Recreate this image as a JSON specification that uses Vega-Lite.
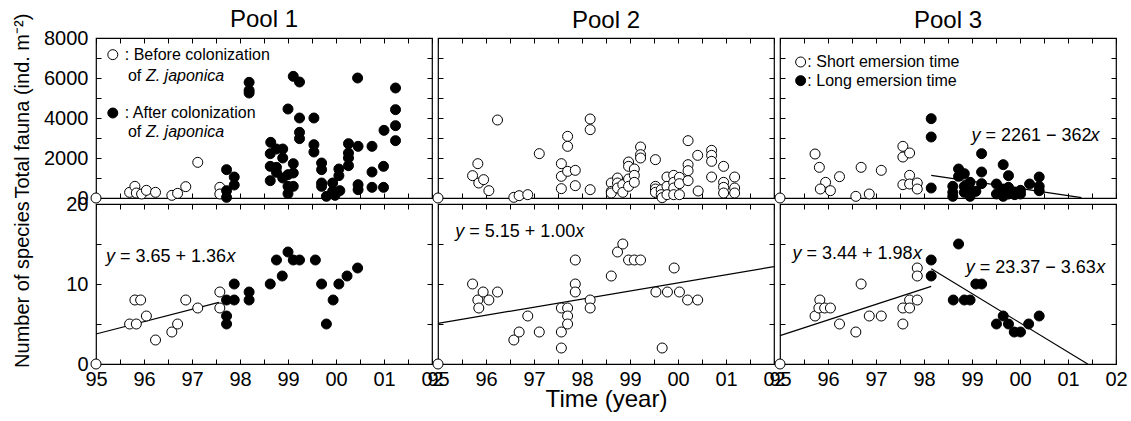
{
  "$schema": "https://vega.github.io/schema/vega-lite/v6.json",
  "padding": {"left": 11, "top": 7, "right": 5, "bottom": 3},
  "background": "white",
  "config": {
    "font": "Liberation Sans",
    "view": {"stroke": "black", "strokeWidth": 1.2},
    "axis": {"grid": false, "domain": false, "tickColor": "black", "tickSize": -5, "tickWidth": 1, "labelFontSize": 20, "labelColor": "black", "titleFontSize": 20, "titleFontWeight": "normal", "titleColor": "black", "labelOverlap": false, "labelFlush": false, "labelBound": false},
    "axisX": {"labelPadding": 10},
    "axisY": {"labelPadding": 13},
    "title": {"fontSize": 24, "fontWeight": "normal", "color": "black", "offset": 5}
  },
  "datasets": {
    "p1f": [
      {"year": 1995, "value": 0, "type": "open"},
      {"year": 1995.70, "value": 283, "type": "open"}, {"year": 1995.81, "value": 583, "type": "open"}, {"year": 1995.84, "value": 250, "type": "open"}, {"year": 1995.95, "value": 200, "type": "open"}, {"year": 1996.05, "value": 383, "type": "open"}, {"year": 1996.24, "value": 283, "type": "open"}, {"year": 1996.58, "value": 133, "type": "open"}, {"year": 1996.70, "value": 233, "type": "open"}, {"year": 1996.87, "value": 567, "type": "open"}, {"year": 1997.12, "value": 1783, "type": "open"}, {"year": 1997.58, "value": 533, "type": "open"}, {"year": 1997.58, "value": 200, "type": "open"},
      {"year": 1997.72, "value": 1417, "type": "solid"}, {"year": 1997.72, "value": 367, "type": "solid"}, {"year": 1997.72, "value": 33, "type": "solid"}, {"year": 1997.88, "value": 1050, "type": "solid"}, {"year": 1997.88, "value": 650, "type": "solid"}, {"year": 1998.19, "value": 5783, "type": "solid"}, {"year": 1998.19, "value": 5383, "type": "solid"}, {"year": 1998.19, "value": 5250, "type": "solid"}, {"year": 1998.64, "value": 2783, "type": "solid"}, {"year": 1998.63, "value": 2217, "type": "solid"}, {"year": 1998.76, "value": 2450, "type": "solid"}, {"year": 1998.89, "value": 2450, "type": "solid"}, {"year": 1998.89, "value": 2000, "type": "solid"}, {"year": 1998.63, "value": 1583, "type": "solid"}, {"year": 1998.76, "value": 1533, "type": "solid"}, {"year": 1998.76, "value": 1283, "type": "solid"}, {"year": 1998.63, "value": 867, "type": "solid"}, {"year": 1998.89, "value": 1000, "type": "solid"}, {"year": 1999.0, "value": 1167, "type": "solid"}, {"year": 1999.11, "value": 1250, "type": "solid"}, {"year": 1999.11, "value": 1717, "type": "solid"}, {"year": 1999.0, "value": 583, "type": "solid"}, {"year": 1999.11, "value": 583, "type": "solid"}, {"year": 1999.0, "value": 217, "type": "solid"}, {"year": 1999.11, "value": 6083, "type": "solid"}, {"year": 1999.24, "value": 5800, "type": "solid"}, {"year": 1999.0, "value": 4450, "type": "solid"}, {"year": 1999.24, "value": 4000, "type": "solid"}, {"year": 1999.24, "value": 3283, "type": "solid"}, {"year": 1999.24, "value": 2967, "type": "solid"}, {"year": 1999.54, "value": 4000, "type": "solid"}, {"year": 1999.54, "value": 2667, "type": "solid"}, {"year": 1999.54, "value": 2300, "type": "solid"}, {"year": 1999.70, "value": 1750, "type": "solid"}, {"year": 1999.70, "value": 1417, "type": "solid"}, {"year": 1999.70, "value": 750, "type": "solid"}, {"year": 1999.70, "value": 583, "type": "solid"}, {"year": 1999.80, "value": 83, "type": "solid"}, {"year": 1999.93, "value": 750, "type": "solid"}, {"year": 1999.93, "value": 333, "type": "solid"}, {"year": 1999.98, "value": 133, "type": "solid"}, {"year": 2000.08, "value": 367, "type": "solid"}, {"year": 2000.06, "value": 1450, "type": "solid"}, {"year": 2000.06, "value": 1117, "type": "solid"}, {"year": 2000.26, "value": 2717, "type": "solid"}, {"year": 2000.26, "value": 2250, "type": "solid"}, {"year": 2000.26, "value": 2000, "type": "solid"}, {"year": 2000.26, "value": 1617, "type": "solid"}, {"year": 2000.45, "value": 6000, "type": "solid"}, {"year": 2000.46, "value": 2583, "type": "solid"}, {"year": 2000.46, "value": 667, "type": "solid"}, {"year": 2000.46, "value": 417, "type": "solid"}, {"year": 2000.75, "value": 2583, "type": "solid"}, {"year": 2000.75, "value": 1300, "type": "solid"}, {"year": 2000.75, "value": 533, "type": "solid"}, {"year": 2000.99, "value": 1583, "type": "solid"}, {"year": 2000.99, "value": 533, "type": "solid"}, {"year": 2001.0, "value": 3383, "type": "solid"}, {"year": 2001.24, "value": 5500, "type": "solid"}, {"year": 2001.24, "value": 4417, "type": "solid"}, {"year": 2001.24, "value": 3617, "type": "solid"}, {"year": 2001.24, "value": 2867, "type": "solid"}
    ],
    "p2f": [
      {"year": 1995, "value": 0, "type": "open"},
      {"year": 1995.72, "value": 1117, "type": "open"}, {"year": 1995.83, "value": 1717, "type": "open"}, {"year": 1995.85, "value": 750, "type": "open"}, {"year": 1995.95, "value": 917, "type": "open"}, {"year": 1996.06, "value": 367, "type": "open"}, {"year": 1996.24, "value": 3900, "type": "open"}, {"year": 1996.58, "value": 33, "type": "open"}, {"year": 1996.69, "value": 117, "type": "open"}, {"year": 1996.87, "value": 167, "type": "open"}, {"year": 1997.11, "value": 2217, "type": "open"}, {"year": 1997.57, "value": 1717, "type": "open"}, {"year": 1997.57, "value": 1083, "type": "open"}, {"year": 1997.57, "value": 467, "type": "open"}, {"year": 1997.70, "value": 3083, "type": "open"}, {"year": 1997.70, "value": 2583, "type": "open"}, {"year": 1997.70, "value": 1333, "type": "open"}, {"year": 1997.86, "value": 1383, "type": "open"}, {"year": 1997.86, "value": 617, "type": "open"}, {"year": 1998.17, "value": 3950, "type": "open"}, {"year": 1998.17, "value": 3417, "type": "open"}, {"year": 1998.17, "value": 417, "type": "open"}, {"year": 1998.61, "value": 750, "type": "open"}, {"year": 1998.61, "value": 333, "type": "open"}, {"year": 1998.61, "value": 250, "type": "open"}, {"year": 1998.74, "value": 1000, "type": "open"}, {"year": 1998.74, "value": 750, "type": "open"}, {"year": 1998.74, "value": 500, "type": "open"}, {"year": 1998.85, "value": 667, "type": "open"}, {"year": 1998.85, "value": 283, "type": "open"}, {"year": 1998.97, "value": 1800, "type": "open"}, {"year": 1998.97, "value": 1583, "type": "open"}, {"year": 1998.97, "value": 950, "type": "open"}, {"year": 1998.97, "value": 583, "type": "open"}, {"year": 1999.09, "value": 1450, "type": "open"}, {"year": 1999.09, "value": 1133, "type": "open"}, {"year": 1999.09, "value": 783, "type": "open"}, {"year": 1999.22, "value": 2550, "type": "open"}, {"year": 1999.22, "value": 2167, "type": "open"}, {"year": 1999.22, "value": 2000, "type": "open"}, {"year": 1999.53, "value": 1917, "type": "open"}, {"year": 1999.53, "value": 583, "type": "open"}, {"year": 1999.53, "value": 450, "type": "open"}, {"year": 1999.53, "value": 283, "type": "open"}, {"year": 1999.65, "value": 417, "type": "open"}, {"year": 1999.65, "value": 167, "type": "open"}, {"year": 1999.67, "value": 17, "type": "open"}, {"year": 1999.77, "value": 1050, "type": "open"}, {"year": 1999.77, "value": 583, "type": "open"}, {"year": 1999.77, "value": 167, "type": "open"}, {"year": 1999.91, "value": 1133, "type": "open"}, {"year": 1999.91, "value": 783, "type": "open"}, {"year": 1999.91, "value": 500, "type": "open"}, {"year": 1999.91, "value": 167, "type": "open"}, {"year": 2000.03, "value": 1033, "type": "open"}, {"year": 2000.03, "value": 717, "type": "open"}, {"year": 2000.03, "value": 167, "type": "open"}, {"year": 2000.21, "value": 2867, "type": "open"}, {"year": 2000.21, "value": 1667, "type": "open"}, {"year": 2000.21, "value": 1367, "type": "open"}, {"year": 2000.21, "value": 867, "type": "open"}, {"year": 2000.41, "value": 2133, "type": "open"}, {"year": 2000.42, "value": 350, "type": "open"}, {"year": 2000.70, "value": 2383, "type": "open"}, {"year": 2000.70, "value": 2133, "type": "open"}, {"year": 2000.70, "value": 1833, "type": "open"}, {"year": 2000.70, "value": 1050, "type": "open"}, {"year": 2000.95, "value": 1583, "type": "open"}, {"year": 2000.95, "value": 783, "type": "open"}, {"year": 2000.95, "value": 533, "type": "open"}, {"year": 2000.95, "value": 250, "type": "open"}, {"year": 2001.18, "value": 1050, "type": "open"}, {"year": 2001.18, "value": 500, "type": "open"}, {"year": 2001.18, "value": 250, "type": "open"}
    ],
    "p3f": [
      {"year": 1995, "value": 0, "type": "open"},
      {"year": 1995.73, "value": 2200, "type": "open"}, {"year": 1995.82, "value": 1533, "type": "open"}, {"year": 1995.95, "value": 783, "type": "open"}, {"year": 1995.84, "value": 450, "type": "open"}, {"year": 1996.05, "value": 367, "type": "open"}, {"year": 1996.24, "value": 1067, "type": "open"}, {"year": 1996.58, "value": 83, "type": "open"}, {"year": 1996.69, "value": 1533, "type": "open"}, {"year": 1996.86, "value": 200, "type": "open"}, {"year": 1997.11, "value": 1383, "type": "open"}, {"year": 1997.56, "value": 2583, "type": "open"}, {"year": 1997.56, "value": 2050, "type": "open"}, {"year": 1997.70, "value": 2250, "type": "open"}, {"year": 1997.70, "value": 1133, "type": "open"}, {"year": 1997.56, "value": 667, "type": "open"}, {"year": 1997.70, "value": 700, "type": "open"}, {"year": 1997.86, "value": 750, "type": "open"}, {"year": 1997.86, "value": 450, "type": "open"},
      {"year": 1998.15, "value": 3967, "type": "solid"}, {"year": 1998.15, "value": 3050, "type": "solid"}, {"year": 1998.15, "value": 500, "type": "solid"}, {"year": 1998.60, "value": 583, "type": "solid"}, {"year": 1998.60, "value": 283, "type": "solid"}, {"year": 1998.60, "value": 83, "type": "solid"}, {"year": 1998.72, "value": 1450, "type": "solid"}, {"year": 1998.72, "value": 1083, "type": "solid"}, {"year": 1998.84, "value": 1217, "type": "solid"}, {"year": 1998.84, "value": 583, "type": "solid"}, {"year": 1998.84, "value": 283, "type": "solid"}, {"year": 1998.96, "value": 783, "type": "solid"}, {"year": 1998.96, "value": 450, "type": "solid"}, {"year": 1998.96, "value": 83, "type": "solid"}, {"year": 1999.08, "value": 333, "type": "solid"}, {"year": 1999.20, "value": 2217, "type": "solid"}, {"year": 1999.20, "value": 1300, "type": "solid"}, {"year": 1999.20, "value": 717, "type": "solid"}, {"year": 1999.51, "value": 700, "type": "solid"}, {"year": 1999.51, "value": 200, "type": "solid"}, {"year": 1999.65, "value": 1667, "type": "solid"}, {"year": 1999.65, "value": 450, "type": "solid"}, {"year": 1999.65, "value": 83, "type": "solid"}, {"year": 1999.76, "value": 1117, "type": "solid"}, {"year": 1999.76, "value": 533, "type": "solid"}, {"year": 1999.76, "value": 200, "type": "solid"}, {"year": 1999.89, "value": 300, "type": "solid"}, {"year": 1999.89, "value": 167, "type": "solid"}, {"year": 2000.01, "value": 383, "type": "solid"}, {"year": 2000.01, "value": 200, "type": "solid"}, {"year": 2000.20, "value": 700, "type": "solid"}, {"year": 2000.40, "value": 1050, "type": "solid"}, {"year": 2000.40, "value": 583, "type": "solid"}, {"year": 2000.40, "value": 367, "type": "solid"}
    ],
    "p1s": [
      {"year": 1995, "value": 0, "type": "open"},
      {"year": 1995.70, "value": 5, "type": "open"}, {"year": 1995.84, "value": 5, "type": "open"}, {"year": 1995.81, "value": 8, "type": "open"}, {"year": 1995.93, "value": 8, "type": "open"}, {"year": 1996.05, "value": 6, "type": "open"}, {"year": 1996.24, "value": 3, "type": "open"}, {"year": 1996.58, "value": 4, "type": "open"}, {"year": 1996.70, "value": 5, "type": "open"}, {"year": 1996.87, "value": 8, "type": "open"}, {"year": 1997.12, "value": 7, "type": "open"}, {"year": 1997.58, "value": 9, "type": "open"}, {"year": 1997.58, "value": 7, "type": "open"},
      {"year": 1997.72, "value": 8, "type": "solid"}, {"year": 1997.72, "value": 6, "type": "solid"}, {"year": 1997.72, "value": 5, "type": "solid"}, {"year": 1997.88, "value": 10, "type": "solid"}, {"year": 1997.88, "value": 8, "type": "solid"}, {"year": 1998.19, "value": 9, "type": "solid"}, {"year": 1998.19, "value": 8, "type": "solid"}, {"year": 1998.63, "value": 10, "type": "solid"}, {"year": 1998.76, "value": 13, "type": "solid"}, {"year": 1998.88, "value": 11, "type": "solid"}, {"year": 1999.0, "value": 14, "type": "solid"}, {"year": 1999.11, "value": 13, "type": "solid"}, {"year": 1999.24, "value": 13, "type": "solid"}, {"year": 1999.57, "value": 13, "type": "solid"}, {"year": 1999.70, "value": 10, "type": "solid"}, {"year": 1999.80, "value": 5, "type": "solid"}, {"year": 1999.94, "value": 8, "type": "solid"}, {"year": 2000.06, "value": 10, "type": "solid"}, {"year": 2000.23, "value": 11, "type": "solid"}, {"year": 2000.45, "value": 12, "type": "solid"}
    ],
    "p2s": [
      {"year": 1995, "value": 0, "type": "open"},
      {"year": 1995.72, "value": 10, "type": "open"}, {"year": 1995.83, "value": 8, "type": "open"}, {"year": 1995.85, "value": 7, "type": "open"}, {"year": 1995.94, "value": 9, "type": "open"}, {"year": 1996.06, "value": 8, "type": "open"}, {"year": 1996.24, "value": 9, "type": "open"}, {"year": 1996.58, "value": 3, "type": "open"}, {"year": 1996.69, "value": 4, "type": "open"}, {"year": 1996.87, "value": 6, "type": "open"}, {"year": 1997.11, "value": 4, "type": "open"}, {"year": 1997.57, "value": 7, "type": "open"}, {"year": 1997.57, "value": 4, "type": "open"}, {"year": 1997.57, "value": 2, "type": "open"}, {"year": 1997.70, "value": 7, "type": "open"}, {"year": 1997.70, "value": 6, "type": "open"}, {"year": 1997.70, "value": 5, "type": "open"}, {"year": 1997.86, "value": 13, "type": "open"}, {"year": 1997.86, "value": 10, "type": "open"}, {"year": 1997.86, "value": 9, "type": "open"}, {"year": 1998.17, "value": 8, "type": "open"}, {"year": 1998.17, "value": 7, "type": "open"}, {"year": 1998.61, "value": 11, "type": "open"}, {"year": 1998.74, "value": 14, "type": "open"}, {"year": 1998.85, "value": 15, "type": "open"}, {"year": 1998.97, "value": 13, "type": "open"}, {"year": 1999.09, "value": 13, "type": "open"}, {"year": 1999.22, "value": 13, "type": "open"}, {"year": 1999.54, "value": 9, "type": "open"}, {"year": 1999.67, "value": 2, "type": "open"}, {"year": 1999.78, "value": 9, "type": "open"}, {"year": 1999.92, "value": 12, "type": "open"}, {"year": 2000.03, "value": 9, "type": "open"}, {"year": 2000.20, "value": 8, "type": "open"}, {"year": 2000.41, "value": 8, "type": "open"}
    ],
    "p3s": [
      {"year": 1995, "value": 0, "type": "open"},
      {"year": 1995.73, "value": 6, "type": "open"}, {"year": 1995.83, "value": 8, "type": "open"}, {"year": 1995.81, "value": 7, "type": "open"}, {"year": 1995.93, "value": 7, "type": "open"}, {"year": 1996.05, "value": 7, "type": "open"}, {"year": 1996.24, "value": 5, "type": "open"}, {"year": 1996.58, "value": 4, "type": "open"}, {"year": 1996.69, "value": 10, "type": "open"}, {"year": 1996.86, "value": 6, "type": "open"}, {"year": 1997.11, "value": 6, "type": "open"}, {"year": 1997.56, "value": 7, "type": "open"}, {"year": 1997.56, "value": 5, "type": "open"}, {"year": 1997.70, "value": 8, "type": "open"}, {"year": 1997.70, "value": 7, "type": "open"}, {"year": 1997.86, "value": 8, "type": "open"}, {"year": 1997.86, "value": 12, "type": "open"}, {"year": 1997.86, "value": 11, "type": "open"},
      {"year": 1998.15, "value": 13, "type": "solid"}, {"year": 1998.15, "value": 11, "type": "solid"}, {"year": 1998.72, "value": 15, "type": "solid"}, {"year": 1998.61, "value": 8, "type": "solid"}, {"year": 1998.84, "value": 8, "type": "solid"}, {"year": 1998.96, "value": 8, "type": "solid"}, {"year": 1999.08, "value": 10, "type": "solid"}, {"year": 1999.20, "value": 10, "type": "solid"}, {"year": 1999.51, "value": 5, "type": "solid"}, {"year": 1999.65, "value": 6, "type": "solid"}, {"year": 1999.76, "value": 5, "type": "solid"}, {"year": 1999.88, "value": 4, "type": "solid"}, {"year": 2000.01, "value": 4, "type": "solid"}, {"year": 2000.18, "value": 5, "type": "solid"}, {"year": 2000.40, "value": 6, "type": "solid"}
    ]
  },
  "columns": 3,
  "spacing": {"row": 6, "column": 6},
  "bounds": "flush",
  "concat": [
    {
      "width": 336, "height": 160,
      "title": {"text": "Pool 1", "offset": -19},
      "resolve": {"axis": {"x": "independent", "y": "independent"}},
      "layer": [
        {"data": {"name": "p1f"}, "mark": {"type": "point", "shape": "circle", "filled": true, "stroke": "black", "strokeWidth": 1, "size": 100, "opacity": 1},
         "encoding": {
           "x": {"field": "year", "type": "quantitative", "scale": {"domain": [1995, 2002], "nice": false, "zero": false}, "axis": {"values": [1995,1995.5,1996,1996.5,1997,1997.5,1998,1998.5,1999,1999.5,2000,2000.5,2001,2001.5,2002], "labels": false, "title": null}},
           "y": {"field": "value", "type": "quantitative", "scale": {"domain": [0, 8000], "nice": false}, "axis": {"values": [0,1000,2000,3000,4000,5000,6000,7000,8000], "format": "d", "labelExpr": "datum.value % 2000 == 0 ? datum.label : ''", "title": "Total fauna (ind. m⁻²)", "titlePadding": 11, "titleAnchor": "start"}},
           "fill": {"field": "type", "type": "nominal", "scale": {"domain": ["open", "solid"], "range": ["white", "black"]}, "legend": null}}},
        {"data": {"values": [{"year": 1995.35, "value": 7167, "type": "open"}, {"year": 1995.35, "value": 4250, "type": "solid"}]}, "mark": {"type": "point", "shape": "circle", "filled": true, "stroke": "black", "strokeWidth": 1, "size": 100, "opacity": 1},
         "encoding": {"x": {"field": "year", "type": "quantitative", "axis": null}, "y": {"field": "value", "type": "quantitative", "axis": null}, "fill": {"field": "type", "type": "nominal", "scale": {"domain": ["open", "solid"], "range": ["white", "black"]}, "legend": null}}},
        {"data": {"values": [{"year": 1995.60, "value": 7167, "label": ": Before colonization"}, {"year": 1995.665, "value": 6117, "label": "of"}, {"year": 1995.60, "value": 4250, "label": ": After colonization"}, {"year": 1995.665, "value": 3283, "label": "of"}]}, "mark": {"type": "text", "align": "left", "baseline": "middle", "fontSize": 16, "color": "black"},
         "encoding": {"x": {"field": "year", "type": "quantitative", "axis": null}, "y": {"field": "value", "type": "quantitative", "axis": null}, "text": {"field": "label"}}},
        {"data": {"values": [{"year": 1996.04, "value": 6117, "label": "Z. japonica"}, {"year": 1996.04, "value": 3283, "label": "Z. japonica"}]}, "mark": {"type": "text", "align": "left", "baseline": "middle", "fontSize": 16, "fontStyle": "italic", "color": "black"},
         "encoding": {"x": {"field": "year", "type": "quantitative", "axis": null}, "y": {"field": "value", "type": "quantitative", "axis": null}, "text": {"field": "label"}}},
        {"data": {"name": "p1f"}, "mark": {"type": "point", "opacity": 0},
         "encoding": {
           "x": {"field": "year", "type": "quantitative", "axis": {"orient": "top", "values": [1995,1995.5,1996,1996.5,1997,1997.5,1998,1998.5,1999,1999.5,2000,2000.5,2001,2001.5,2002], "labels": false, "title": null}},
           "y": {"field": "value", "type": "quantitative", "axis": {"orient": "right", "values": [0,1000,2000,3000,4000,5000,6000,7000,8000], "labels": false, "title": null}}}}
      ]
    },
    {
      "width": 336, "height": 160,
      "title": "Pool 2",
      "resolve": {"axis": {"x": "independent", "y": "independent"}},
      "layer": [
        {"data": {"name": "p2f"}, "mark": {"type": "point", "shape": "circle", "filled": true, "stroke": "black", "strokeWidth": 1, "size": 100, "opacity": 1},
         "encoding": {
           "x": {"field": "year", "type": "quantitative", "scale": {"domain": [1995, 2002], "nice": false, "zero": false}, "axis": {"values": [1995,1995.5,1996,1996.5,1997,1997.5,1998,1998.5,1999,1999.5,2000,2000.5,2001,2001.5,2002], "labels": false, "title": null}},
           "y": {"field": "value", "type": "quantitative", "scale": {"domain": [0, 8000], "nice": false}, "axis": {"values": [0,1000,2000,3000,4000,5000,6000,7000,8000], "labels": false, "title": null}},
           "fill": {"field": "type", "type": "nominal", "scale": {"domain": ["open", "solid"], "range": ["white", "black"]}, "legend": null}}},
        {"data": {"name": "p2f"}, "mark": {"type": "point", "opacity": 0},
         "encoding": {
           "x": {"field": "year", "type": "quantitative", "axis": {"orient": "top", "values": [1995,1995.5,1996,1996.5,1997,1997.5,1998,1998.5,1999,1999.5,2000,2000.5,2001,2001.5,2002], "labels": false, "title": null}},
           "y": {"field": "value", "type": "quantitative", "axis": {"orient": "right", "values": [0,1000,2000,3000,4000,5000,6000,7000,8000], "labels": false, "title": null}}}}
      ]
    },
    {
      "width": 336, "height": 160,
      "title": "Pool 3",
      "resolve": {"axis": {"x": "independent", "y": "independent"}},
      "layer": [
        {"data": {"values": [{"year": 1998.15, "value": 1133}, {"year": 2001.28, "value": 20}]}, "mark": {"type": "line", "color": "black", "strokeWidth": 1.2},
         "encoding": {"x": {"field": "year", "type": "quantitative", "axis": null}, "y": {"field": "value", "type": "quantitative", "axis": null}}},
        {"data": {"name": "p3f"}, "mark": {"type": "point", "shape": "circle", "filled": true, "stroke": "black", "strokeWidth": 1, "size": 100, "opacity": 1},
         "encoding": {
           "x": {"field": "year", "type": "quantitative", "scale": {"domain": [1995, 2002], "nice": false, "zero": false}, "axis": {"values": [1995,1995.5,1996,1996.5,1997,1997.5,1998,1998.5,1999,1999.5,2000,2000.5,2001,2001.5,2002], "labels": false, "title": null}},
           "y": {"field": "value", "type": "quantitative", "scale": {"domain": [0, 8000], "nice": false}, "axis": {"values": [0,1000,2000,3000,4000,5000,6000,7000,8000], "labels": false, "title": null}},
           "fill": {"field": "type", "type": "nominal", "scale": {"domain": ["open", "solid"], "range": ["white", "black"]}, "legend": null}}},
        {"data": {"values": [{"year": 1995.43, "value": 6800, "type": "open"}, {"year": 1995.43, "value": 5867, "type": "solid"}]}, "mark": {"type": "point", "shape": "circle", "filled": true, "stroke": "black", "strokeWidth": 1, "size": 100, "opacity": 1},
         "encoding": {"x": {"field": "year", "type": "quantitative", "axis": null}, "y": {"field": "value", "type": "quantitative", "axis": null}, "fill": {"field": "type", "type": "nominal", "scale": {"domain": ["open", "solid"], "range": ["white", "black"]}, "legend": null}}},
        {"data": {"values": [{"year": 1995.57, "value": 6800, "label": ": Short emersion time"}, {"year": 1995.57, "value": 5867, "label": ": Long emersion time"}]}, "mark": {"type": "text", "align": "left", "baseline": "middle", "fontSize": 16, "color": "black"},
         "encoding": {"x": {"field": "year", "type": "quantitative", "axis": null}, "y": {"field": "value", "type": "quantitative", "axis": null}, "text": {"field": "label"}}},
        {"data": {"values": [{"year": 1999.28, "value": 3117, "label": "= 2261 − 362"}]}, "mark": {"type": "text", "align": "left", "baseline": "middle", "fontSize": 18, "color": "black"},
         "encoding": {"x": {"field": "year", "type": "quantitative", "axis": null}, "y": {"field": "value", "type": "quantitative", "axis": null}, "text": {"field": "label"}}},
        {"data": {"values": [{"year": 1998.99, "value": 3117, "label": "y"}, {"year": 2001.47, "value": 3117, "label": "x"}]}, "mark": {"type": "text", "align": "left", "baseline": "middle", "fontSize": 18, "fontStyle": "italic", "color": "black"},
         "encoding": {"x": {"field": "year", "type": "quantitative", "axis": null}, "y": {"field": "value", "type": "quantitative", "axis": null}, "text": {"field": "label"}}},
        {"data": {"name": "p3f"}, "mark": {"type": "point", "opacity": 0},
         "encoding": {
           "x": {"field": "year", "type": "quantitative", "axis": {"orient": "top", "values": [1995,1995.5,1996,1996.5,1997,1997.5,1998,1998.5,1999,1999.5,2000,2000.5,2001,2001.5,2002], "labels": false, "title": null}},
           "y": {"field": "value", "type": "quantitative", "axis": {"orient": "right", "values": [0,1000,2000,3000,4000,5000,6000,7000,8000], "labels": false, "title": null}}}}
      ]
    },
    {
      "width": 336, "height": 160,
      "resolve": {"axis": {"x": "independent", "y": "independent"}},
      "layer": [
        {"data": {"values": [{"year": 1995, "value": 3.75}, {"year": 1997.56, "value": 7.7}]}, "mark": {"type": "line", "color": "black", "strokeWidth": 1.2},
         "encoding": {"x": {"field": "year", "type": "quantitative", "axis": null}, "y": {"field": "value", "type": "quantitative", "axis": null}}},
        {"data": {"name": "p1s"}, "mark": {"type": "point", "shape": "circle", "filled": true, "stroke": "black", "strokeWidth": 1, "size": 100, "opacity": 1},
         "encoding": {
           "x": {"field": "year", "type": "quantitative", "scale": {"domain": [1995, 2002], "nice": false, "zero": false}, "axis": {"values": [1995,1995.5,1996,1996.5,1997,1997.5,1998,1998.5,1999,1999.5,2000,2000.5,2001,2001.5,2002], "labelExpr": "datum.value % 1 == 0 ? substring(toString(datum.value), 2, 4) : ''", "title": null}},
           "y": {"field": "value", "type": "quantitative", "scale": {"domain": [0, 20], "nice": false}, "axis": {"values": [0,5,10,15,20], "labelExpr": "datum.value % 10 == 0 ? datum.label : ''", "title": "Number of species", "titlePadding": 33}},
           "fill": {"field": "type", "type": "nominal", "scale": {"domain": ["open", "solid"], "range": ["white", "black"]}, "legend": null}}},
        {"data": {"values": [{"year": 1995.50, "value": 13.33, "label": "= 3.65 + 1.36"}]}, "mark": {"type": "text", "align": "left", "baseline": "middle", "fontSize": 18, "color": "black"},
         "encoding": {"x": {"field": "year", "type": "quantitative", "axis": null}, "y": {"field": "value", "type": "quantitative", "axis": null}, "text": {"field": "label"}}},
        {"data": {"values": [{"year": 1995.21, "value": 13.33, "label": "y"}, {"year": 1997.72, "value": 13.33, "label": "x"}]}, "mark": {"type": "text", "align": "left", "baseline": "middle", "fontSize": 18, "fontStyle": "italic", "color": "black"},
         "encoding": {"x": {"field": "year", "type": "quantitative", "axis": null}, "y": {"field": "value", "type": "quantitative", "axis": null}, "text": {"field": "label"}}},
        {"data": {"name": "p1s"}, "mark": {"type": "point", "opacity": 0},
         "encoding": {
           "x": {"field": "year", "type": "quantitative", "axis": {"orient": "top", "values": [1995,1995.5,1996,1996.5,1997,1997.5,1998,1998.5,1999,1999.5,2000,2000.5,2001,2001.5,2002], "labels": false, "title": null}},
           "y": {"field": "value", "type": "quantitative", "axis": {"orient": "right", "values": [0,5,10,15,20], "labels": false, "title": null}}}}
      ]
    },
    {
      "width": 336, "height": 160,
      "resolve": {"axis": {"x": "independent", "y": "independent"}},
      "layer": [
        {"data": {"values": [{"year": 1995, "value": 5.08}, {"year": 2002, "value": 12.17}]}, "mark": {"type": "line", "color": "black", "strokeWidth": 1.2},
         "encoding": {"x": {"field": "year", "type": "quantitative", "axis": null}, "y": {"field": "value", "type": "quantitative", "axis": null}}},
        {"data": {"name": "p2s"}, "mark": {"type": "point", "shape": "circle", "filled": true, "stroke": "black", "strokeWidth": 1, "size": 100, "opacity": 1},
         "encoding": {
           "x": {"field": "year", "type": "quantitative", "scale": {"domain": [1995, 2002], "nice": false, "zero": false}, "axis": {"values": [1995,1995.5,1996,1996.5,1997,1997.5,1998,1998.5,1999,1999.5,2000,2000.5,2001,2001.5,2002], "labelExpr": "datum.value % 1 == 0 ? substring(toString(datum.value), 2, 4) : ''", "title": "Time (year)", "titleFontSize": 24, "titlePadding": -2}},
           "y": {"field": "value", "type": "quantitative", "scale": {"domain": [0, 20], "nice": false}, "axis": {"values": [0,5,10,15,20], "labels": false, "title": null}},
           "fill": {"field": "type", "type": "nominal", "scale": {"domain": ["open", "solid"], "range": ["white", "black"]}, "legend": null}}},
        {"data": {"values": [{"year": 1995.65, "value": 16.46, "label": "= 5.15 + 1.00"}]}, "mark": {"type": "text", "align": "left", "baseline": "middle", "fontSize": 18, "color": "black"},
         "encoding": {"x": {"field": "year", "type": "quantitative", "axis": null}, "y": {"field": "value", "type": "quantitative", "axis": null}, "text": {"field": "label"}}},
        {"data": {"values": [{"year": 1995.36, "value": 16.46, "label": "y"}, {"year": 1997.86, "value": 16.46, "label": "x"}]}, "mark": {"type": "text", "align": "left", "baseline": "middle", "fontSize": 18, "fontStyle": "italic", "color": "black"},
         "encoding": {"x": {"field": "year", "type": "quantitative", "axis": null}, "y": {"field": "value", "type": "quantitative", "axis": null}, "text": {"field": "label"}}},
        {"data": {"name": "p2s"}, "mark": {"type": "point", "opacity": 0},
         "encoding": {
           "x": {"field": "year", "type": "quantitative", "axis": {"orient": "top", "values": [1995,1995.5,1996,1996.5,1997,1997.5,1998,1998.5,1999,1999.5,2000,2000.5,2001,2001.5,2002], "labels": false, "title": null}},
           "y": {"field": "value", "type": "quantitative", "axis": {"orient": "right", "values": [0,5,10,15,20], "labels": false, "title": null}}}}
      ]
    },
    {
      "width": 336, "height": 160,
      "resolve": {"axis": {"x": "independent", "y": "independent"}},
      "layer": [
        {"data": {"values": [{"year": 1995, "value": 3.54, "seg": "a"}, {"year": 1998.15, "value": 9.7, "seg": "a"}, {"year": 1998.15, "value": 11.9, "seg": "b"}, {"year": 2001.41, "value": 0, "seg": "b"}]}, "mark": {"type": "line", "color": "black", "strokeWidth": 1.2},
         "encoding": {"x": {"field": "year", "type": "quantitative", "axis": null}, "y": {"field": "value", "type": "quantitative", "axis": null}, "detail": {"field": "seg"}}},
        {"data": {"name": "p3s"}, "mark": {"type": "point", "shape": "circle", "filled": true, "stroke": "black", "strokeWidth": 1, "size": 100, "opacity": 1},
         "encoding": {
           "x": {"field": "year", "type": "quantitative", "scale": {"domain": [1995, 2002], "nice": false, "zero": false}, "axis": {"values": [1995,1995.5,1996,1996.5,1997,1997.5,1998,1998.5,1999,1999.5,2000,2000.5,2001,2001.5,2002], "labelExpr": "datum.value % 1 == 0 ? substring(toString(datum.value), 2, 4) : ''", "title": null}},
           "y": {"field": "value", "type": "quantitative", "scale": {"domain": [0, 20], "nice": false}, "axis": {"values": [0,5,10,15,20], "labels": false, "title": null}},
           "fill": {"field": "type", "type": "nominal", "scale": {"domain": ["open", "solid"], "range": ["white", "black"]}, "legend": null}}},
        {"data": {"values": [{"year": 1995.55, "value": 13.75, "label": "= 3.44 + 1.98"}, {"year": 1999.16, "value": 12.0, "label": "= 23.37 − 3.63"}]}, "mark": {"type": "text", "align": "left", "baseline": "middle", "fontSize": 18, "color": "black"},
         "encoding": {"x": {"field": "year", "type": "quantitative", "axis": null}, "y": {"field": "value", "type": "quantitative", "axis": null}, "text": {"field": "label"}}},
        {"data": {"values": [{"year": 1995.26, "value": 13.75, "label": "y"}, {"year": 1997.77, "value": 13.75, "label": "x"}, {"year": 1998.87, "value": 12.0, "label": "y"}, {"year": 2001.59, "value": 12.0, "label": "x"}]}, "mark": {"type": "text", "align": "left", "baseline": "middle", "fontSize": 18, "fontStyle": "italic", "color": "black"},
         "encoding": {"x": {"field": "year", "type": "quantitative", "axis": null}, "y": {"field": "value", "type": "quantitative", "axis": null}, "text": {"field": "label"}}},
        {"data": {"name": "p3s"}, "mark": {"type": "point", "opacity": 0},
         "encoding": {
           "x": {"field": "year", "type": "quantitative", "axis": {"orient": "top", "values": [1995,1995.5,1996,1996.5,1997,1997.5,1998,1998.5,1999,1999.5,2000,2000.5,2001,2001.5,2002], "labels": false, "title": null}},
           "y": {"field": "value", "type": "quantitative", "axis": {"orient": "right", "values": [0,5,10,15,20], "labels": false, "title": null}}}}
      ]
    }
  ]
}
